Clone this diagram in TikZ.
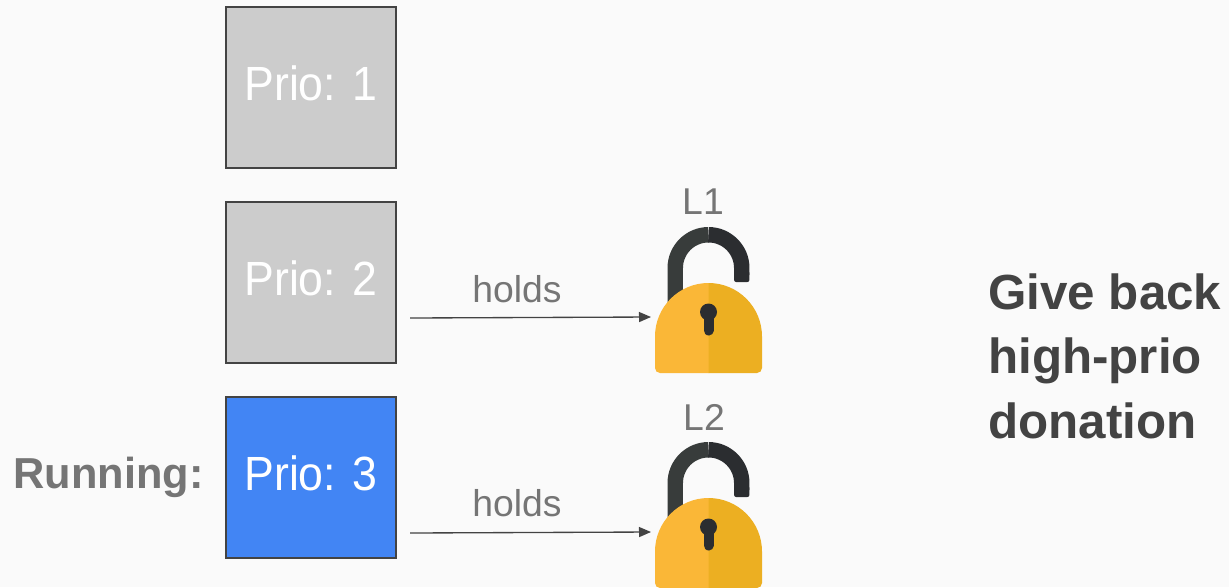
\documentclass[tikz,border=0pt]{standalone}
\usepackage{fontspec}
\setmainfont{Liberation Sans}
\newfontfamily\priofont[FakeStretch=0.93]{Liberation Sans}
\usetikzlibrary{arrows.meta,positioning}

\definecolor{pagegray}{HTML}{FAFAFA}
\definecolor{taskgray}{HTML}{CCCCCC}
\definecolor{taskblue}{HTML}{4285F4}
\definecolor{edgegray}{HTML}{434343}
\definecolor{labelgray}{HTML}{757575}
\definecolor{lockleft}{HTML}{FAB737}
\definecolor{lockright}{HTML}{ECAF22}
\definecolor{shackleleft}{HTML}{383C3B}
\definecolor{shackleright}{HTML}{2B2D30}

\begin{document}
\begin{tikzpicture}[x=0.75pt,y=-0.75pt]
        \tikzset{
            style task/.style={draw=edgegray,line width=1.2pt,minimum width=127.5pt,minimum height=120.75pt,inner sep=0pt,text=white,font=\priofont\fontsize{36}{42}\selectfont},
            style grey task/.style={style task,fill=taskgray},
            style blue task/.style={style task,fill=taskblue},
            style holds/.style={text=labelgray,font=\fontsize{28}{32}\selectfont,inner sep=0pt},
            style holds line/.style={draw=edgegray,line width=1pt,-{Triangle[length=9pt,width=7.5pt]}},
            style lock/.pic={
                \draw[shackleleft,line width=11.6pt] (-33.25,20) -- (-33.25,-15) arc[start angle=180,end angle=270,radius=33.25];
                \draw[shackleright,line width=11.6pt] (0,-48.25) arc[start angle=270,end angle=360,radius=33.25] -- (33.25,-8);
                \fill[shackleright,rounded corners=1.5pt] (25.6,-12) rectangle (40.9,-1);
                \fill[lockleft] (0,0) arc[start angle=270,end angle=180,radius=53.5] -- (-53.5,85) arc[start angle=180,end angle=90,radius=5] -- (0.5,90) -- (0.5,0) -- cycle;
                \fill[lockright] (0,0) arc[start angle=270,end angle=360,radius=53.5] -- (53.5,85) arc[start angle=0,end angle=90,radius=5] -- (0,90) -- cycle;
                \fill[shackleright] (0,29) circle[radius=8.5];
                \draw[shackleright,line width=7.5pt,line cap=round] (0,32) -- (0,47.5);
            }
        };
        \path[use as bounding box,fill=pagegray] (0,0) rectangle (1229,587);
        \clip (0,0) rectangle (1229,587);

        \node[style grey task] (prio1) at (311,87.5) {\raisebox{6.5pt}{Prio: 1}};
        \node[style grey task] (prio2) at (311,282.5) {\raisebox{6.5pt}{Prio: 2}};
        \node[style blue task] (prio3) at (311,477.5) {\raisebox{6.5pt}{Prio: 3}};
        \node[text=labelgray,font=\bfseries\fontsize{32.5}{38}\selectfont,inner sep=0pt] (running) at (108.5,477) {Running:};

        \pic (lock1) at (708.5,283) {style lock};
        \pic (lock2) at (708.5,498) {style lock};
        \node[style holds] (l1) at (703,202) {L1};
        \node[style holds] (l2) at (704,417) {L2};

        \coordinate (from1) at (410,318);
        \coordinate (to1) at (651,317);
        \coordinate (from2) at (410,533);
        \coordinate (to2) at (651,532);
        \draw[style holds line] (from1) -- (to1);
        \draw[style holds line] (from2) -- (to2);
        \node[style holds] (holds1) at (517,289) {holds};
        \node[style holds] (holds2) at (517,503) {holds};

        \node[text=edgegray,font=\bfseries\fontsize{37}{48.4}\selectfont,align=left,anchor=west,inner sep=0pt] (giveback) at (988,356) {Give back\\high-prio\\donation};
    \end{tikzpicture}
\end{document}
